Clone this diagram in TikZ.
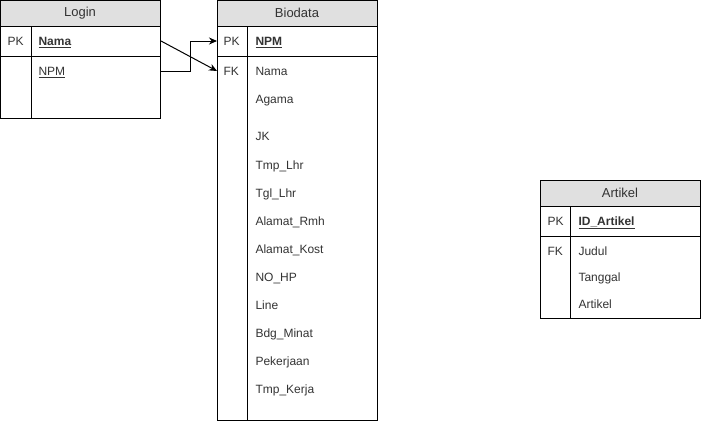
\documentclass[tikz,border=0pt]{standalone}
\usepackage{fontspec}
\setmainfont{Liberation Sans}
\usetikzlibrary{arrows.meta}

\definecolor{headfill}{HTML}{E0E0E0}
\definecolor{txt}{HTML}{333333}

\tikzset{
  tablebox/.style={draw=black, anchor=north west, inner sep=0pt},
  headtext/.style={text=txt, inner sep=0pt, font=\fontsize{13}{15}\selectfont},
  field/.style={anchor=west, text=txt, inner sep=0pt, text height=8.6pt, text depth=0pt, font=\fontsize{12}{14}\selectfont},
  link/.style={-{Stealth[length=8pt,width=7pt]}, line width=1pt}
}

\begin{document}
\begin{tikzpicture}[x=1pt,y=-1pt,line width=1pt]

    \useasboundingbox (0,0) rectangle (701,423);

    % Login
    \fill[headfill] (0,0) rectangle (160,26);
    \node[tablebox, minimum width=160pt, minimum height=118pt] (login) at (0,0) {};
    \draw (0,26) -- (160,26);
    \draw (0,56) -- (160,56);
    \draw (31,26) -- (31,118);

    \node[headtext] (logintitle) at (80,13) {Login};

    \node[field] (lpk) at (7,41) {PK};
    \node[field] (lnama) at (38,41) {\underline{\textbf{Nama}}};
    \node[field] (lnpm) at (38,71) {\underline{NPM}};


    % Biodata
    \fill[headfill] (217,0) rectangle (377,26);
    \node[tablebox, minimum width=160pt, minimum height=420pt] (biodata) at (217,0) {};
    \draw (217,26) -- (377,26);
    \draw (217,56) -- (377,56);
    \draw (247,26) -- (247,420);

    \node[headtext] (biodatatitle) at (297,13) {Biodata};

    \node[field] (bpk) at (223,41) {PK};
    \node[field] (bnpm) at (255,41) {\underline{\textbf{NPM}}};
    \node[field] (bfk) at (223,71) {FK};

    \foreach \name/\y/\label in {bnama/71/Nama, bagama/99/Agama, bjk/136/JK,
        btmplhr/165/Tmp\_Lhr, btgllhr/193/Tgl\_Lhr, balamatrmh/221/Alamat\_Rmh,
        balamatkost/249/Alamat\_Kost, bnohp/277/NO\_HP, bline/305/Line,
        bbdgminat/333/Bdg\_Minat, bpekerjaan/361/Pekerjaan, btmpkerja/389/Tmp\_Kerja}
      \node[field] (\name) at (255,\y) {\label};


    % Artikel
    \fill[headfill] (540,180) rectangle (700,206);
    \node[tablebox, minimum width=160pt, minimum height=138pt] (artikel) at (540,180) {};
    \draw (540,206) -- (700,206);
    \draw (540,236) -- (700,236);
    \draw (570.5,206) -- (570.5,318);

    \node[headtext] (artikeltitle) at (620,193) {Artikel};

    \node[field] (apk) at (547,221.5) {PK};
    \node[field] (aid) at (578,221.5) {\underline{\textbf{ID\_Artikel}}};
    \node[field] (afk) at (547,251) {FK};
    \node[field] (ajudul) at (578,251) {Judul};
    \node[field] (atanggal) at (578,277.5) {Tanggal};
    \node[field] (aartikel) at (578,304) {Artikel};


    % relations
    \draw[link] (login.east |- lnama) -- (biodata.west |- bnama);
    \draw[link] (login.east |- lnpm) -- ++(29,0) |- (biodata.west |- bnpm);

\end{tikzpicture}
\end{document}
